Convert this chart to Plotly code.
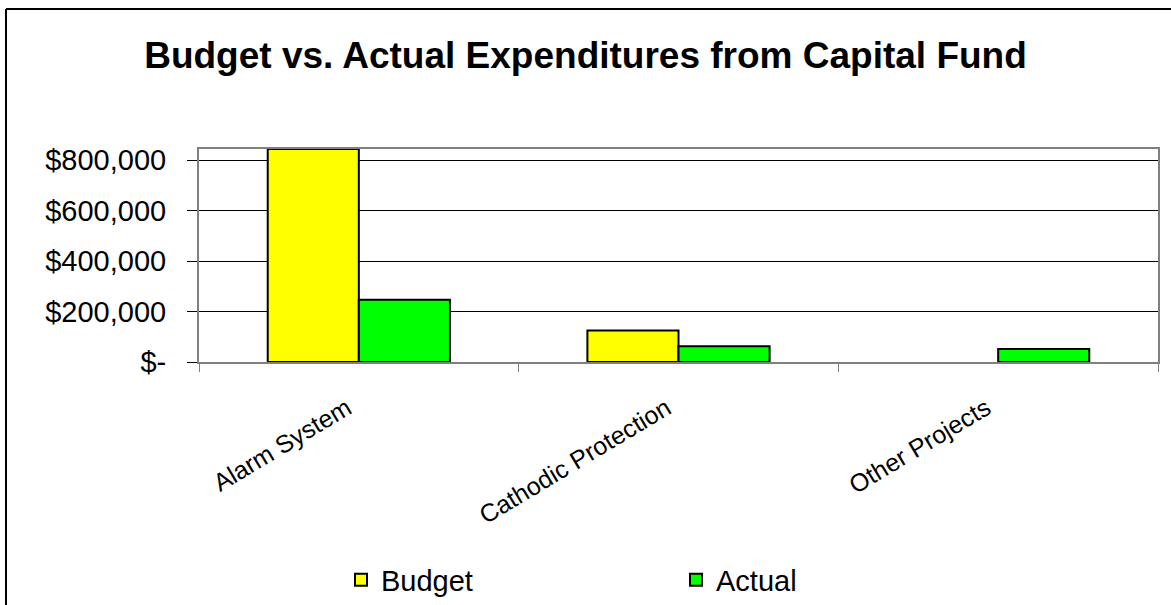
import plotly.graph_objects as go

categories = ["Alarm System", "Cathodic Protection", "Other Projects"]
budget = [845000, 125000, None]
actual = [247000, 62000, 52000]
tick_vals = [0, 200000, 400000, 600000, 800000]
tick_text = ["$-", "$200,000", "$400,000", "$600,000", "$800,000"]

W, H = 1171, 605
L, R, T, B = 199, 13, 149, 243
pw, ph = W - L - R, H - T - B

def px_x(x):
    return (x - L) / pw

def px_y(y):
    return (H - B - y) / ph

FONT = "Liberation Sans, Arial, sans-serif"

fig = go.Figure()
fig.add_trace(go.Bar(name="Budget", x=categories, y=budget,
                     marker=dict(color="#FFFF00", line=dict(color="black", width=2))))
fig.add_trace(go.Bar(name="Actual", x=categories, y=actual,
                     marker=dict(color="#00FF00", line=dict(color="black", width=2))))

fig.update_layout(
    width=W, height=H,
    margin=dict(l=L, r=R, t=T, b=B, autoexpand=False),
    paper_bgcolor="white", plot_bgcolor="white",
    barmode="group", bargap=0.43, bargroupgap=0,
    font=dict(family=FONT, color="black"),
    title=dict(text="<b>Budget vs. Actual Expenditures from Capital Fund</b>",
               x=0.5, xanchor="center", xref="container",
               y=1 - 55 / H, yanchor="middle", yref="container",
               font=dict(size=37, family=FONT, color="black")),
    showlegend=True,
    legend=dict(orientation="h", x=px_x(341), xanchor="left",
                y=px_y(580), yanchor="middle",
                entrywidth=290, entrywidthmode="pixels",
                font=dict(size=29, family=FONT, color="black"),
                bgcolor="rgba(0,0,0,0)", traceorder="normal"),
    xaxis=dict(type="category", tickson="boundaries", ticks="outside", ticklen=8,
               tickcolor="#808080", tickwidth=1, tickangle=-31,
               ticklabelstandoff=20, ticklabelshift=-12,
               tickfont=dict(size=25, family=FONT, color="black"),
               showline=True, linecolor="#808080", linewidth=2, mirror=True,
               showgrid=False),
    yaxis=dict(range=[0, 845000], tickvals=tick_vals, ticktext=tick_text,
               ticks="outside", ticklen=10, tickcolor="black", tickwidth=1,
               ticklabelstandoff=15,
               tickfont=dict(size=29, family=FONT, color="black"),
               showgrid=True, gridcolor="black", gridwidth=1,
               zeroline=True, zerolinecolor="black", zerolinewidth=1,
               showline=True, linecolor="#808080", linewidth=2, mirror=True),
    shapes=[
        dict(type="line", xref="paper", yref="paper", x0=px_x(6), x1=px_x(6),
             y0=px_y(9), y1=px_y(640), line=dict(color="black", width=2)),
        dict(type="line", xref="paper", yref="paper", x0=px_x(6), x1=px_x(1200),
             y0=px_y(9), y1=px_y(9), line=dict(color="black", width=2)),
    ],
)

fig.write_html("out.html")
